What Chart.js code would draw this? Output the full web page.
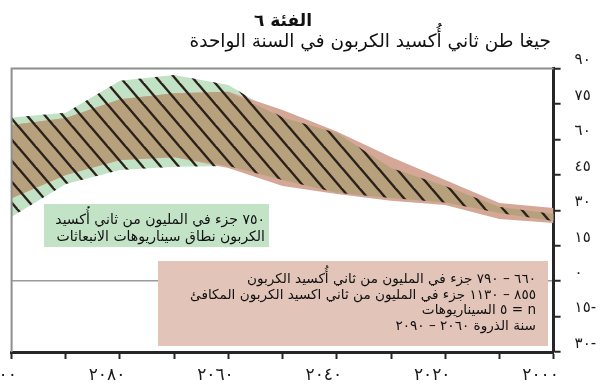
<!DOCTYPE html>
<html lang="ar">
<head>
<meta charset="utf-8">
<script src="https://cdn.jsdelivr.net/npm/chart.js@4.4.1/dist/chart.umd.min.js"></script>
<style>
  html, body { margin: 0; padding: 0; background: #ffffff; }
  #wrap { width: 607px; height: 392px; position: relative; }
</style>
</head>
<body>
<div id="wrap"><canvas id="chart" dir="rtl"></canvas></div>
<script>
// Decades along the horizontal axis
const years = [2000, 2010, 2020, 2030, 2040, 2050, 2060, 2070, 2080, 2090, 2100];
const yearTickLabels = ['٢٠٠٠', '', '٢٠٢٠', '', '٢٠٤٠', '', '٢٠٦٠', '', '٢٠٨٠', '', '٢١٠٠'];

// Emission ticks (GtCO2 per year)
const valueTicks = [-30, -15, 0, 15, 30, 45, 60, 75, 90];
const valueTickLabels = ['-٣٠', '-١٥', '٠', '١٥', '٣٠', '٤٥', '٦٠', '٧٥', '٩٠'];

// 750 ppm CO2 emission scenario range
const rangeUpper = [28.4, 31.4, 40.3, 47.9, 62.7, 69.3, 83.0, 87.2, 84.8, 71.3, 69.3];
const rangeLower = [25.4, 28.8, 33.3, 35.2, 37.4, 42.8, 48.7, 48.4, 47.0, 41.1, 27.3];

// Category 6 scenarios (n = 5)
const catUpper = [30.9, 33.1, 42.8, 52.5, 63.3, 72.4, 80.2, 79.5, 77.0, 69.0, 66.1];
const catLower = [24.6, 26.3, 32.2, 34.0, 36.9, 40.3, 47.9, 52.4, 51.3, 44.9, 35.1];

const titleLines = ['الفئة ٦', 'جيغا طن ثاني أُكسيد الكربون في السنة الواحدة'];
const rangeNote = ['٧٥٠ جزء في المليون من ثاني أُكسيد', 'الكربون نطاق سيناريوهات الانبعاثات'];
const catNote = [
  '٦٦٠ – ٧٩٠ جزء في المليون من ثاني أُكسيد الكربون',
  '٨٥٥ – ١١٣٠ جزء في المليون من ثاني اكسيد الكربون المكافئ',
  'n = ٥ السيناريوهات',
  'سنة الذروة ٢٠٦٠ – ٢٠٩٠'
];

const FONT = "'DejaVu Sans', sans-serif";
const GREEN = '#c1e2c4';
const PINK = '#d5a797';
const OVERLAP = '#b7a07c';
const HATCH = '#2b201b';

// where both bands cover the same years
const overlapUpper = years.map((_, i) => Math.min(rangeUpper[i], catUpper[i]));
const overlapLower = years.map((_, i) => Math.max(rangeLower[i], catLower[i]));

function points(arr) { return years.map((x, i) => ({ x: x, y: arr[i] })); }

// diagonal "\" hatching tile
function hatchPattern(step, rise, width, color) {
  const c = document.createElement('canvas');
  c.width = step; c.height = rise;
  const g = c.getContext('2d');
  g.strokeStyle = color; g.lineWidth = width;
  for (let k = -1; k <= 1; k++) {
    g.beginPath();
    g.moveTo(k * step - step * 0.5, -rise * 0.5);
    g.lineTo(k * step + step * 1.5, rise * 1.5);
    g.stroke();
  }
  return g.createPattern(c, 'repeat');
}

function band(arr, order, fill, color) {
  return {
    data: points(arr), order: order, fill: fill,
    backgroundColor: color || 'transparent', borderColor: 'transparent',
    borderWidth: 0, pointRadius: 0, tension: 0
  };
}

const framePlugin = {
  id: 'frame',
  afterDatasetsDraw(chart) {
    const { ctx, chartArea: a } = chart;
    ctx.save();
    ctx.strokeStyle = '#8e8e8e';
    ctx.lineWidth = 2;
    ctx.beginPath();
    ctx.moveTo(a.left, a.bottom);
    ctx.lineTo(a.left, a.top);
    ctx.lineTo(a.right, a.top);
    ctx.stroke();
    ctx.restore();
  }
};

const notesPlugin = {
  id: 'notes',
  afterDraw(chart) {
    const ctx = chart.ctx;
    ctx.save();
    ctx.direction = 'rtl';
    ctx.fillStyle = '#111';
    // titles
    ctx.textAlign = 'center';
    ctx.font = 'bold 17px ' + FONT;
    ctx.fillText(titleLines[0], 283, 26);
    ctx.textAlign = 'right';
    ctx.font = '18.5px ' + FONT;
    ctx.fillText(titleLines[1], 551, 47);

    // range note
    ctx.fillStyle = '#c3e3c7';
    ctx.fillRect(44, 204, 225, 43);
    ctx.fillStyle = '#111';
    ctx.font = '14px ' + FONT;
    ctx.textAlign = 'right';
    rangeNote.forEach((t, i) => ctx.fillText(t, 265, 224 + i * 17));

    // category note
    ctx.fillStyle = '#e2c4b8';
    ctx.fillRect(158, 261, 390, 85);
    ctx.fillStyle = '#111';
    ctx.font = '13.6px ' + FONT;
    catNote.forEach((t, i) => ctx.fillText(t, 536, 283 + i * 15.5));
    ctx.restore();
  }
};

const hatch = hatchPattern(18, 21, 2.4, HATCH);

new Chart(document.getElementById('chart'), {
  type: 'line',
  data: {
    datasets: [
      band(rangeLower, 4, false),
      band(rangeUpper, 4, '-1', GREEN),
      band(catLower, 3, false),
      band(catUpper, 3, '-1', PINK),
      band(overlapLower, 2, false),
      band(overlapUpper, 2, '-1', OVERLAP),
      band(rangeLower, 1, false),
      band(rangeUpper, 1, '-1', hatch)
    ]
  },
  options: {
    responsive: true,
    maintainAspectRatio: false,
    animation: false,
    events: [],
    layout: { padding: { left: 11.6, top: 68.5, right: 0, bottom: 0 } },
    plugins: { legend: { display: false }, tooltip: { enabled: false }, title: { display: false } },
    font: { family: FONT },
    scales: {
      x: {
        type: 'linear', reverse: true, min: 2000, max: 2100,
        afterBuildTicks: s => { s.ticks = years.map(v => ({ value: v })); },
        afterFit: s => { s.height = 40; s.paddingLeft = 0; s.paddingRight = 0; },
        border: { display: true, color: '#262626', width: 3 },
        grid: { drawOnChartArea: false, drawTicks: true, tickLength: 7, tickColor: '#262626', tickWidth: 2 },
        ticks: {
          autoSkip: false, maxRotation: 0, minRotation: 0, padding: 6, labelOffset: -13,
          color: '#1a1a1a', font: { family: FONT, size: 17 },
          callback: v => yearTickLabels[years.indexOf(v)]
        }
      },
      y: {
        position: 'right', min: -30, max: 90,
        afterBuildTicks: s => { s.ticks = valueTicks.map(v => ({ value: v })); },
        afterFit: s => { s.width = 53.4; s.paddingTop = 0; s.paddingBottom = 0; },
        border: { display: true, color: '#262626', width: 3 },
        grid: {
          color: c => (c.tick && c.tick.value === 0) ? '#9a9a9a' : 'transparent',
          lineWidth: 1.5, drawTicks: true, tickLength: 7, tickColor: '#262626', tickWidth: 2
        },
        ticks: {
          padding: 14, labelOffset: -8, color: '#1a1a1a', font: { family: FONT, size: 15 },
          callback: v => valueTickLabels[valueTicks.indexOf(v)]
        }
      }
    }
  },
  plugins: [framePlugin, notesPlugin]
});
</script>
</body>
</html>
